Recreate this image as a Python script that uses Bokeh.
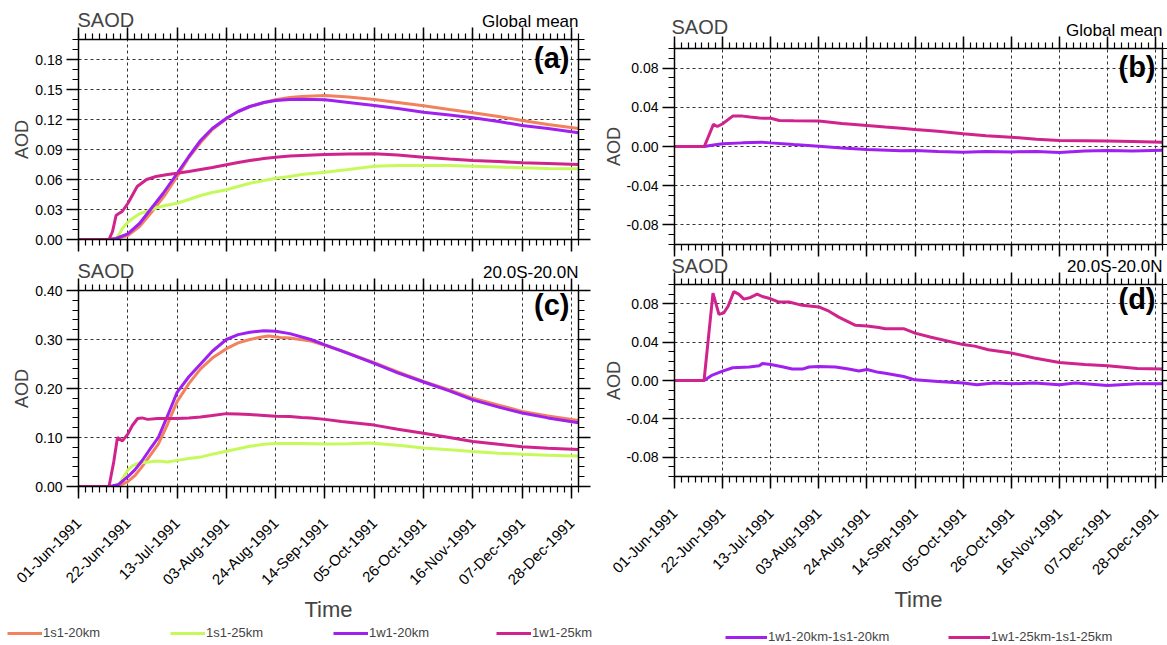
import math
from datetime import datetime

import numpy as np
from bokeh.embed import file_html
from bokeh.layouts import column, row
from bokeh.models import (CustomJSTickFormatter, FixedTicker, Label, Legend,
                          LegendItem, LinearAxis, PrintfTickFormatter, Range1d)
from bokeh.plotting import figure
from bokeh.resources import INLINE

FONT = "Liberation Sans"

# ---- time axis: days counted from 01-Jun-1991, data runs to 31-Dec-1991 ----
start_date = datetime(1991, 6, 1)
end_day = 213
tick_labels = ["01-Jun-1991", "22-Jun-1991", "13-Jul-1991", "03-Aug-1991",
               "24-Aug-1991", "14-Sep-1991", "05-Oct-1991", "26-Oct-1991",
               "16-Nov-1991", "07-Dec-1991", "28-Dec-1991"]
tick_days = [(datetime.strptime(s, "%d-%b-%Y") - start_date).days for s in tick_labels]
minor_days = list(range(0, end_day + 1, 3))

# ---- series names and colours ----
names = ["1s1-20km", "1s1-25km", "1w1-20km", "1w1-25km"]
colors = ["#f2825e", "#c6fa5c", "#a020f0", "#d0238c"]
diff_names = ["1w1-20km-1s1-20km", "1w1-25km-1s1-25km"]
diff_colors = ["#a020f0", "#d0238c"]

# ---- (a) global mean SAOD ----
a_s20_day = [0, 13, 16, 21, 26, 31, 37, 42, 47, 52, 57, 63, 68, 73, 79, 84, 90, 95,
             105, 115, 126, 136, 147, 158, 168, 179, 189, 200, 213]
a_s20_val = [0, 0, 0.001, 0.004, 0.013, 0.027, 0.045, 0.063, 0.082, 0.097, 0.110,
             0.1207, 0.128, 0.133, 0.137, 0.1397, 0.142, 0.143, 0.144, 0.1425, 0.140,
             0.137, 0.1337, 0.130, 0.1267, 0.123, 0.119, 0.115, 0.111]
a_s25_day = [0, 15, 16.5, 19, 21, 23, 26, 30, 33, 37, 42, 47, 52, 57, 63, 68, 73, 79,
             84, 90, 95, 105, 115, 126, 136, 147, 158, 168, 179, 189, 200, 213]
a_s25_val = [0, 0, 0.002, 0.012, 0.0173, 0.021, 0.0257, 0.029, 0.0317, 0.034, 0.0363,
             0.040, 0.044, 0.047, 0.0497, 0.053, 0.0563, 0.059, 0.0613, 0.063, 0.065,
             0.0673, 0.070, 0.0733, 0.074, 0.074, 0.074, 0.0733, 0.0725, 0.0717, 0.071,
             0.0707]
a_w20_day = [0, 13, 16, 21, 26, 31, 36, 42, 47, 52, 57, 63, 68, 73, 79, 84, 90, 95,
             105, 115, 126, 136, 147, 158, 168, 179, 189, 200, 213]
a_w20_val = [0, 0, 0.001, 0.0057, 0.016, 0.031, 0.046, 0.066, 0.083, 0.099, 0.111,
             0.1213, 0.128, 0.133, 0.137, 0.139, 0.140, 0.1403, 0.1397, 0.137, 0.134,
             0.131, 0.1273, 0.1245, 0.1217, 0.118, 0.114, 0.111, 0.1067]
a_w25_day = [0, 13, 14.5, 16, 17, 18.6, 21, 25, 29, 33, 38, 42, 47, 52, 57, 63, 68,
             73, 79, 84, 90, 95, 105, 115, 126, 136, 147, 158, 168, 179, 189, 200, 213]
a_w25_val = [0, 0, 0.008, 0.024, 0.0257, 0.028, 0.036, 0.053, 0.060, 0.063, 0.065,
             0.0663, 0.068, 0.070, 0.072, 0.0747, 0.077, 0.079, 0.081, 0.0823, 0.0835,
             0.084, 0.085, 0.0855, 0.0857, 0.0845, 0.0823, 0.0805, 0.079, 0.078,
             0.0767, 0.076, 0.075]

# ---- (c) 20S-20N SAOD ----
c_s20_day = [0, 15, 17, 21, 24, 27, 30, 34, 38, 42, 47, 52, 57, 63, 68, 73, 78, 81,
             86, 90, 99, 105, 112, 126, 136, 147, 158, 168, 179, 189, 200, 213]
c_s20_val = [0, 0, 0.001, 0.010, 0.022, 0.040, 0.060, 0.0867, 0.128, 0.1733, 0.210,
             0.240, 0.262, 0.2813, 0.293, 0.300, 0.305, 0.307, 0.304, 0.303, 0.2967,
             0.288, 0.277, 0.2527, 0.234, 0.2147, 0.197, 0.180, 0.166, 0.1533, 0.144,
             0.1347]
c_s25_day = [0, 16, 18, 21, 23, 25, 29.5, 33.7, 38, 42, 47, 52, 57, 63, 68, 73, 79,
             84, 95, 105, 115, 124, 136, 147, 158, 168, 179, 189, 200, 213]
c_s25_val = [0, 0, 0.010, 0.0333, 0.042, 0.0467, 0.050, 0.052, 0.050, 0.0533, 0.057,
             0.060, 0.066, 0.072, 0.077, 0.082, 0.086, 0.088, 0.088, 0.0867, 0.087,
             0.0887, 0.084, 0.0787, 0.075, 0.0713, 0.068, 0.066, 0.064, 0.062]
c_w20_day = [0, 13.5, 17, 21, 24, 27, 30, 34, 38, 42, 47, 52, 57, 63, 68, 73, 79, 84,
             90, 99, 105, 112, 126, 136, 147, 158, 168, 179, 189, 200, 213]
c_w20_val = [0, 0, 0.004, 0.020, 0.034, 0.052, 0.073, 0.100, 0.145, 0.192, 0.224,
             0.250, 0.276, 0.300, 0.310, 0.3147, 0.318, 0.3167, 0.312, 0.300, 0.289,
             0.2767, 0.2513, 0.232, 0.2133, 0.195, 0.1767, 0.162, 0.150, 0.140, 0.130]
c_w25_day = [0, 13, 15, 16.6, 18.7, 21, 23, 25.2, 27, 29.5, 33.7, 42, 47, 52, 57, 63,
             68, 73, 79, 84, 90, 95, 99, 105, 112, 119, 126, 136, 147, 158, 168, 179,
             189, 200, 213]
c_w25_val = [0, 0, 0.050, 0.100, 0.093, 0.107, 0.125, 0.1387, 0.140, 0.137, 0.139,
             0.139, 0.140, 0.142, 0.145, 0.1487, 0.148, 0.147, 0.145, 0.1433, 0.143,
             0.141, 0.140, 0.137, 0.1327, 0.129, 0.1253, 0.117, 0.1087, 0.100, 0.092,
             0.086, 0.0813, 0.078, 0.0753]

# ---- (b) global mean differences ----
b_d20_day = [0, 13, 17, 21, 29.7, 38, 42, 52, 63, 73, 84, 99, 105, 115, 126, 136, 147,
             158, 168, 179, 189, 200, 213]
b_d20_val = [0, 0, 0.0015, 0.0027, 0.0037, 0.0044, 0.0037, 0.002, 0.0003, -0.0015,
             -0.003, -0.0043, -0.004, -0.005, -0.0058, -0.005, -0.0055, -0.005,
             -0.006, -0.0045, -0.004, -0.0045, -0.0037]
b_d25_day = [0, 13, 17, 18.7, 21, 25.4, 29.7, 33, 37, 42, 45.7, 52, 63, 73, 84, 92,
             99, 105, 115, 126, 136, 147, 158, 168, 179, 189, 200, 213]
b_d25_val = [0, 0, 0.0225, 0.0204, 0.0232, 0.031, 0.031, 0.030, 0.029, 0.0288, 0.0266,
             0.0262, 0.026, 0.0235, 0.0215, 0.020, 0.0187, 0.0174, 0.0155, 0.013,
             0.011, 0.0095, 0.0075, 0.0061, 0.0058, 0.0055, 0.005, 0.0044]

# ---- (d) 20S-20N differences ----
d_d20_day = [0, 12.9, 16.5, 21, 25.4, 32.6, 37, 38.4, 42, 47, 51.4, 55.8, 58.7, 63,
             70.3, 76, 80.5, 84, 89, 92, 100, 105, 115, 126, 132, 139.6, 147, 157,
             168, 175, 189, 202, 213]
d_d20_val = [0, 0, 0.0057, 0.0098, 0.0133, 0.014, 0.0153, 0.0177, 0.0167, 0.0143,
             0.0119, 0.0119, 0.014, 0.0146, 0.014, 0.0119, 0.0098, 0.0115, 0.0085,
             0.0075, 0.0041, 0.0007, -0.001, -0.0027, -0.0044, -0.0027, -0.0034,
             -0.0027, -0.0044, -0.0027, -0.0051, -0.0034, -0.0034]
d_d25_day = [0, 12.9, 16.8, 19.4, 21.5, 23.4, 25.9, 28, 30.3, 33.2, 36.1, 38.3, 42,
             45.6, 50, 55.8, 63, 67.4, 71.7, 79, 84, 89.2, 92, 100, 105, 112, 126,
             131, 137, 147, 157, 168, 179, 189, 202, 213]
d_d25_val = [0, 0, 0.091, 0.0688, 0.0705, 0.0773, 0.0926, 0.090, 0.0848, 0.0865,
             0.090, 0.0875, 0.0851, 0.0817, 0.0817, 0.0783, 0.0766, 0.0722, 0.066,
             0.0575, 0.0568, 0.0552, 0.054, 0.054, 0.0494, 0.045, 0.0374, 0.0358,
             0.032, 0.0286, 0.0235, 0.0187, 0.0167, 0.0153, 0.0126, 0.0119]

# ---- y axis tick sets ----
ya_major = [0.0, 0.03, 0.06, 0.09, 0.12, 0.15, 0.18]
ya_minor = [round(v, 2) for v in np.arange(0.0, 0.2001, 0.01)]
yc_major = [0.0, 0.1, 0.2, 0.3, 0.4]
yc_minor = [round(v, 2) for v in np.arange(0.0, 0.4001, 0.02)]
yd_major = [-0.08, -0.04, 0.0, 0.04, 0.08]
yd_minor = [round(v, 2) for v in np.arange(-0.1, 0.1001, 0.01)]


def hide_labels(ax):
    ax.formatter = CustomJSTickFormatter(code="return ''")
    ax.major_label_text_font_size = "0px"
    ax.major_label_standoff = 0


def style_axis(ax, tick_out=12, minor_out=6):
    ax.axis_line_width = 1.5
    ax.axis_line_color = "black"
    ax.major_tick_line_width = 1.5
    ax.minor_tick_line_width = 1.2
    ax.major_tick_line_color = "black"
    ax.minor_tick_line_color = "black"
    ax.major_tick_in = 0
    ax.minor_tick_in = 0
    ax.major_tick_out = tick_out
    ax.minor_tick_out = minor_out
    ax.major_label_text_font = FONT
    ax.major_label_text_font_size = "14px"
    ax.major_label_text_color = "black"


def strip(width, height, margin=None):
    """Transparent full-width figure used for the panel headers and legend row."""
    s = figure(width=width, height=height, output_backend="svg",
               toolbar_location=None, x_axis_type=None, y_axis_type=None,
               x_range=Range1d(0, 1), y_range=Range1d(0, 1), min_border=0,
               frame_align=False)
    s.outline_line_color = None
    s.border_fill_alpha = 0
    s.background_fill_alpha = 0
    if margin is not None:
        s.margin = margin
    return s


def header(width, height, x_left, x_right, y_left, y_right, region, margin=None):
    h = strip(width, height, margin)
    h.add_layout(Label(x=x_left, y=y_left, x_units="screen", y_units="screen",
                       text="SAOD", text_font=FONT, text_font_size="20px",
                       text_color="#444444", text_align="left",
                       text_baseline="alphabetic"))
    h.add_layout(Label(x=x_right, y=y_right, x_units="screen", y_units="screen",
                       text=region, text_font=FONT, text_font_size="17px",
                       text_color="black", text_align="right",
                       text_baseline="alphabetic"))
    return h


def legend_strip(width, height, labels, line_colors, x, y, glyph_w, label_w):
    s = strip(width, height)
    items = []
    for lab, col in zip(labels, line_colors):
        # key-only renderer: a single missing point, so nothing is drawn in the strip
        r = s.line(x=[np.nan], y=[np.nan], line_color=col, line_width=3)
        items.append(LegendItem(label=lab, renderers=[r]))
    s.add_layout(Legend(items=items, location=(x, y), orientation="horizontal",
                        glyph_width=glyph_w, glyph_height=14, label_height=14,
                        label_width=label_w, label_standoff=1, spacing=0,
                        padding=0, margin=0, border_line_color=None,
                        background_fill_alpha=0, label_text_font=FONT,
                        label_text_font_size="13px"))
    return s


def make_panel(width, height, borders, y_lim, y_major, y_minor, series, tag,
               show_time, right_tick=12):
    left, right, top, bottom = borders
    p = figure(width=width, height=height, output_backend="svg",
               toolbar_location=None, x_range=Range1d(0, end_day),
               y_range=Range1d(*y_lim), min_border_left=left,
               min_border_right=right, min_border_top=top,
               min_border_bottom=bottom)
    p.outline_line_color = None
    p.background_fill_color = "white"
    p.border_fill_alpha = 0
    # pull the panel up so its top ticks share space with the header above it
    p.margin = (-12, 0, 0, 0)

    xt = FixedTicker(ticks=tick_days, minor_ticks=minor_days)
    yt = FixedTicker(ticks=y_major, minor_ticks=y_minor)

    # bottom and left axes carry the labels
    xax = p.xaxis[0]
    yax = p.yaxis[0]
    xax.ticker = xt
    yax.ticker = yt
    style_axis(xax)
    style_axis(yax)
    yax.formatter = PrintfTickFormatter(format="%.2f")
    yax.major_label_standoff = 4
    yax.axis_label = "AOD"
    yax.axis_label_text_font = FONT
    yax.axis_label_text_font_size = "18px"
    yax.axis_label_text_font_style = "normal"
    yax.axis_label_standoff = 0

    if show_time:
        xax.major_label_overrides = {d: s for d, s in zip(tick_days, tick_labels)}
        xax.major_label_orientation = math.pi / 4
        xax.major_label_text_font_size = "15px"
        xax.major_label_standoff = 22
        xax.axis_label = "Time"
        xax.axis_label_text_font = FONT
        xax.axis_label_text_font_size = "22px"
        xax.axis_label_text_font_style = "normal"
        xax.axis_label_standoff = 0
    else:
        hide_labels(xax)

    # tick-only axes on the top and right edges
    top_ax = LinearAxis(ticker=xt)
    style_axis(top_ax)
    hide_labels(top_ax)
    p.add_layout(top_ax, "above")
    right_ax = LinearAxis(ticker=yt)
    style_axis(right_ax, tick_out=right_tick, minor_out=min(6, right_tick))
    hide_labels(right_ax)
    p.add_layout(right_ax, "right")

    for g in (p.xgrid[0], p.ygrid[0]):
        g.grid_line_color = "#333333"
        g.grid_line_dash = "3 3"
        g.grid_line_width = 1
    p.xgrid[0].ticker = xt
    p.ygrid[0].ticker = yt

    for days, vals, color in series:
        p.line(days, vals, line_color=color, line_width=3)

    fw = width - left - right
    fh = height - top - bottom
    p.add_layout(Label(x=fw - 9, y=fh - 18, x_units="screen", y_units="screen",
                       text=tag, text_font=FONT, text_font_size="29px",
                       text_font_style="bold", text_color="black",
                       text_align="right", text_baseline="alphabetic"))
    return p


# left column: global-mean and tropical SAOD for the four runs
head_a = header(600, 39, 77, 578, 19.5, 17.6, "Global mean")
pa = make_panel(600, 235, (78, 22, 12, 23), (0, 0.2), ya_major, ya_minor,
                [(a_s20_day, a_s20_val, colors[0]), (a_s25_day, a_s25_val, colors[1]),
                 (a_w20_day, a_w20_val, colors[2]), (a_w25_day, a_w25_val, colors[3])],
                "(a)", False)
head_c = header(600, 39, 77, 578, 19.5, 17.6, "20.0S-20.0N", margin=(-11, 0, 0, 0))
pc = make_panel(600, 346, (78, 22, 12, 134), (0, 0.4), yc_major, yc_minor,
                [(c_s20_day, c_s20_val, colors[0]), (c_s25_day, c_s25_val, colors[1]),
                 (c_w20_day, c_w20_val, colors[2]), (c_w25_day, c_w25_val, colors[3])],
                "(c)", True)
leg_left = legend_strip(600, 21, names, colors, 7, 5, 35, 127)

# right column: differences between the two injection types
head_b = header(567, 48, 71, 562, 21.5, 17.6, "Global mean")
pb = make_panel(567, 221, (72, 5, 12, 13), (-0.1, 0.1), yd_major, yd_minor,
                [(b_d20_day, b_d20_val, diff_colors[0]),
                 (b_d25_day, b_d25_val, diff_colors[1])],
                "(b)", False, right_tick=5)
head_d = header(567, 34, 71, 562, 18.5, 17.6, "20.0S-20.0N", margin=(-7, 0, 0, 0))
pd_ = make_panel(567, 342, (72, 5, 12, 134), (-0.1, 0.1), yd_major, yd_minor,
                 [(d_d20_day, d_d20_val, diff_colors[0]),
                  (d_d25_day, d_d25_val, diff_colors[1])],
                 "(d)", True, right_tick=5)
leg_right = legend_strip(567, 31, diff_names, diff_colors, 125, 1, 42, 180)

layout = row(column(head_a, pa, head_c, pc, leg_left),
             column(head_b, pb, head_d, pd_, leg_right))

with open("out.html", "w") as f:
    f.write(file_html(layout, INLINE))
